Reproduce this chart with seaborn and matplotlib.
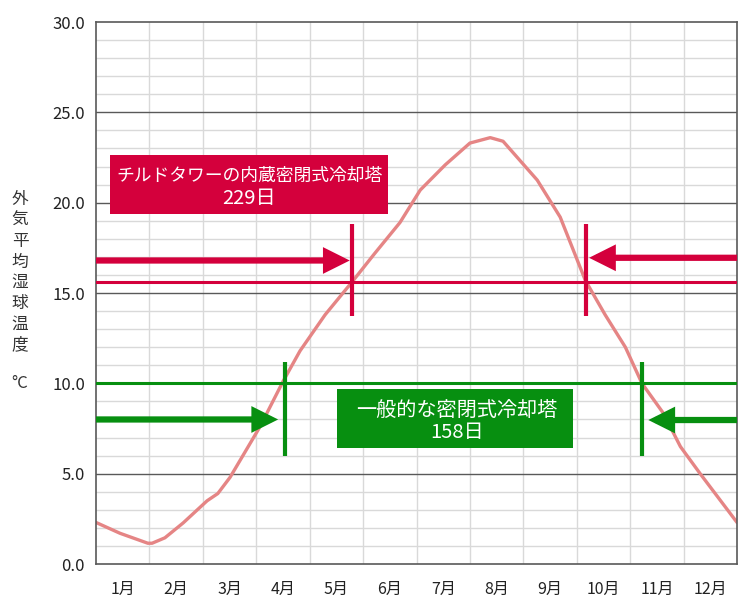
import numpy as np
import pandas as pd
import matplotlib
matplotlib.use("Agg")
import matplotlib.pyplot as plt
from matplotlib.patches import Rectangle
import seaborn as sns

# month position (0 = start of Jan, 12 = end of Dec) and wet-bulb temperature
month_pos = [0.0, 0.45, 0.97, 1.05, 1.29, 1.63, 2.08, 2.28, 2.51, 3.07, 3.5, 3.82,
             4.29, 4.79, 5.22, 5.69, 6.07, 6.54, 7.0, 7.38, 7.62, 8.26, 8.69,
             9.16, 9.53, 9.91, 10.22, 10.62, 10.94, 11.31, 12.0]
wet_bulb = [2.3, 1.7, 1.15, 1.15, 1.45, 2.27, 3.5, 3.9, 4.8, 7.6, 10.1, 11.8,
            13.8, 15.6, 17.2, 18.9, 20.7, 22.1, 23.3, 23.6, 23.4, 21.25, 19.2,
            15.7, 13.8, 12.0, 10.0, 8.35, 6.5, 5.0, 2.3]
month_labels = [f"{m}月" for m in range(1, 13)]

# thresholds and cross points
chilled_temp = 15.6
chilled_start, chilled_end = 4.79, 9.18
general_temp = 10.0
general_start, general_end = 3.54, 10.22

RED = "#D4003C"
GREEN = "#078F10"
CURVE = "#E58585"

sns.set_theme(style="white")
plt.rcParams['font.family'] = ['Noto Sans CJK JP', 'DejaVu Sans']

df = pd.DataFrame({"month": month_pos, "temp": wet_bulb})

fig = plt.figure(figsize=(7.5, 6.1), dpi=100)
ax = fig.add_axes([0.128, 0.0754, 0.8547, 0.8885])

# grid
for v in np.arange(1, 30, 1):
    if v % 5 != 0:
        ax.axhline(v, color="#d9d9d9", lw=1.0, zorder=0)
for m in range(1, 12):
    ax.axvline(m, color="#d9d9d9", lw=1.0, zorder=0)
for v in [5, 10, 15, 20, 25]:
    ax.axhline(v, color="#595959", lw=1.0, zorder=0.5)

sns.lineplot(data=df, x="month", y="temp", ax=ax, color=CURVE, lw=2.4, zorder=2)

# threshold lines
ax.axhline(chilled_temp, color=RED, lw=2.2, zorder=3)
ax.axhline(general_temp, color=GREEN, lw=2.2, zorder=3)
for xv in [chilled_start, chilled_end]:
    ax.plot([xv, xv], [13.7, 18.8], color=RED, lw=3, zorder=4, solid_capstyle="butt")
for xv in [general_start, general_end]:
    ax.plot([xv, xv], [6.0, 11.2], color=GREEN, lw=3, zorder=4, solid_capstyle="butt")

# arrows
def arrow(x0, x1, y, color):
    ax.annotate("", xy=(x1, y), xytext=(x0, y),
                arrowprops=dict(arrowstyle="-|>,head_length=0.8,head_width=0.4",
                                mutation_scale=15, lw=4.5, color=color,
                                capstyle="butt", joinstyle="miter",
                                shrinkA=0, shrinkB=0), zorder=5)

arrow(0, chilled_start - 0.04, 16.8, RED)
arrow(12, chilled_end + 0.05, 16.95, RED)
arrow(0, general_start - 0.13, 8.0, GREEN)
arrow(12, general_end + 0.12, 7.97, GREEN)

# label boxes
ax.add_patch(Rectangle((0.262, 19.37), 5.206, 3.26, fc=RED, ec="none", zorder=6))
ax.add_patch(Rectangle((4.513, 6.42), 4.42, 3.26, fc=GREEN, ec="none", zorder=6))
ax.text(2.87, 21.47, "チルドタワーの内蔵密閉式冷却塔", color="white", fontsize=12.8,
        ha="center", va="center", zorder=7)
ax.text(2.87, 20.25, "229日", color="white", fontsize=14.5,
        ha="center", va="center", zorder=7)
ax.text(6.76, 8.52, "一般的な密閉式冷却塔", color="white", fontsize=14.5,
        ha="center", va="center", zorder=7)
ax.text(6.76, 7.30, "158日", color="white", fontsize=14.5,
        ha="center", va="center", zorder=7)

ax.set_xlim(0, 12)
ax.set_ylim(0, 30)
ax.set_yticks(np.arange(0, 31, 5))
ax.set_yticklabels([f"{v:.1f}" for v in np.arange(0, 31, 5)], fontsize=12)
ax.set_xticks(np.arange(12) + 0.5)
ax.set_xticklabels(month_labels, fontsize=11.5)
ax.tick_params(axis="both", length=0, colors="#222222")
ax.tick_params(axis="x", pad=12)
ax.tick_params(axis="y", pad=8)
ax.set_xlabel("")
ax.set_ylabel("")
for s in ax.spines.values():
    s.set_color("#595959")
    s.set_linewidth(1.2)

# vertical y-axis label
chars = list("外気平均湿球温度")
for i, c in enumerate(chars):
    fig.text(20 / 750, 1 - (200 + i * 20.7) / 610, c, fontsize=12,
             ha="center", va="center", color="#333333")
fig.text(20 / 750, 1 - 384 / 610, "°C", fontsize=12, ha="center", va="center",
         color="#333333")

fig.savefig("out.png", dpi=100)
